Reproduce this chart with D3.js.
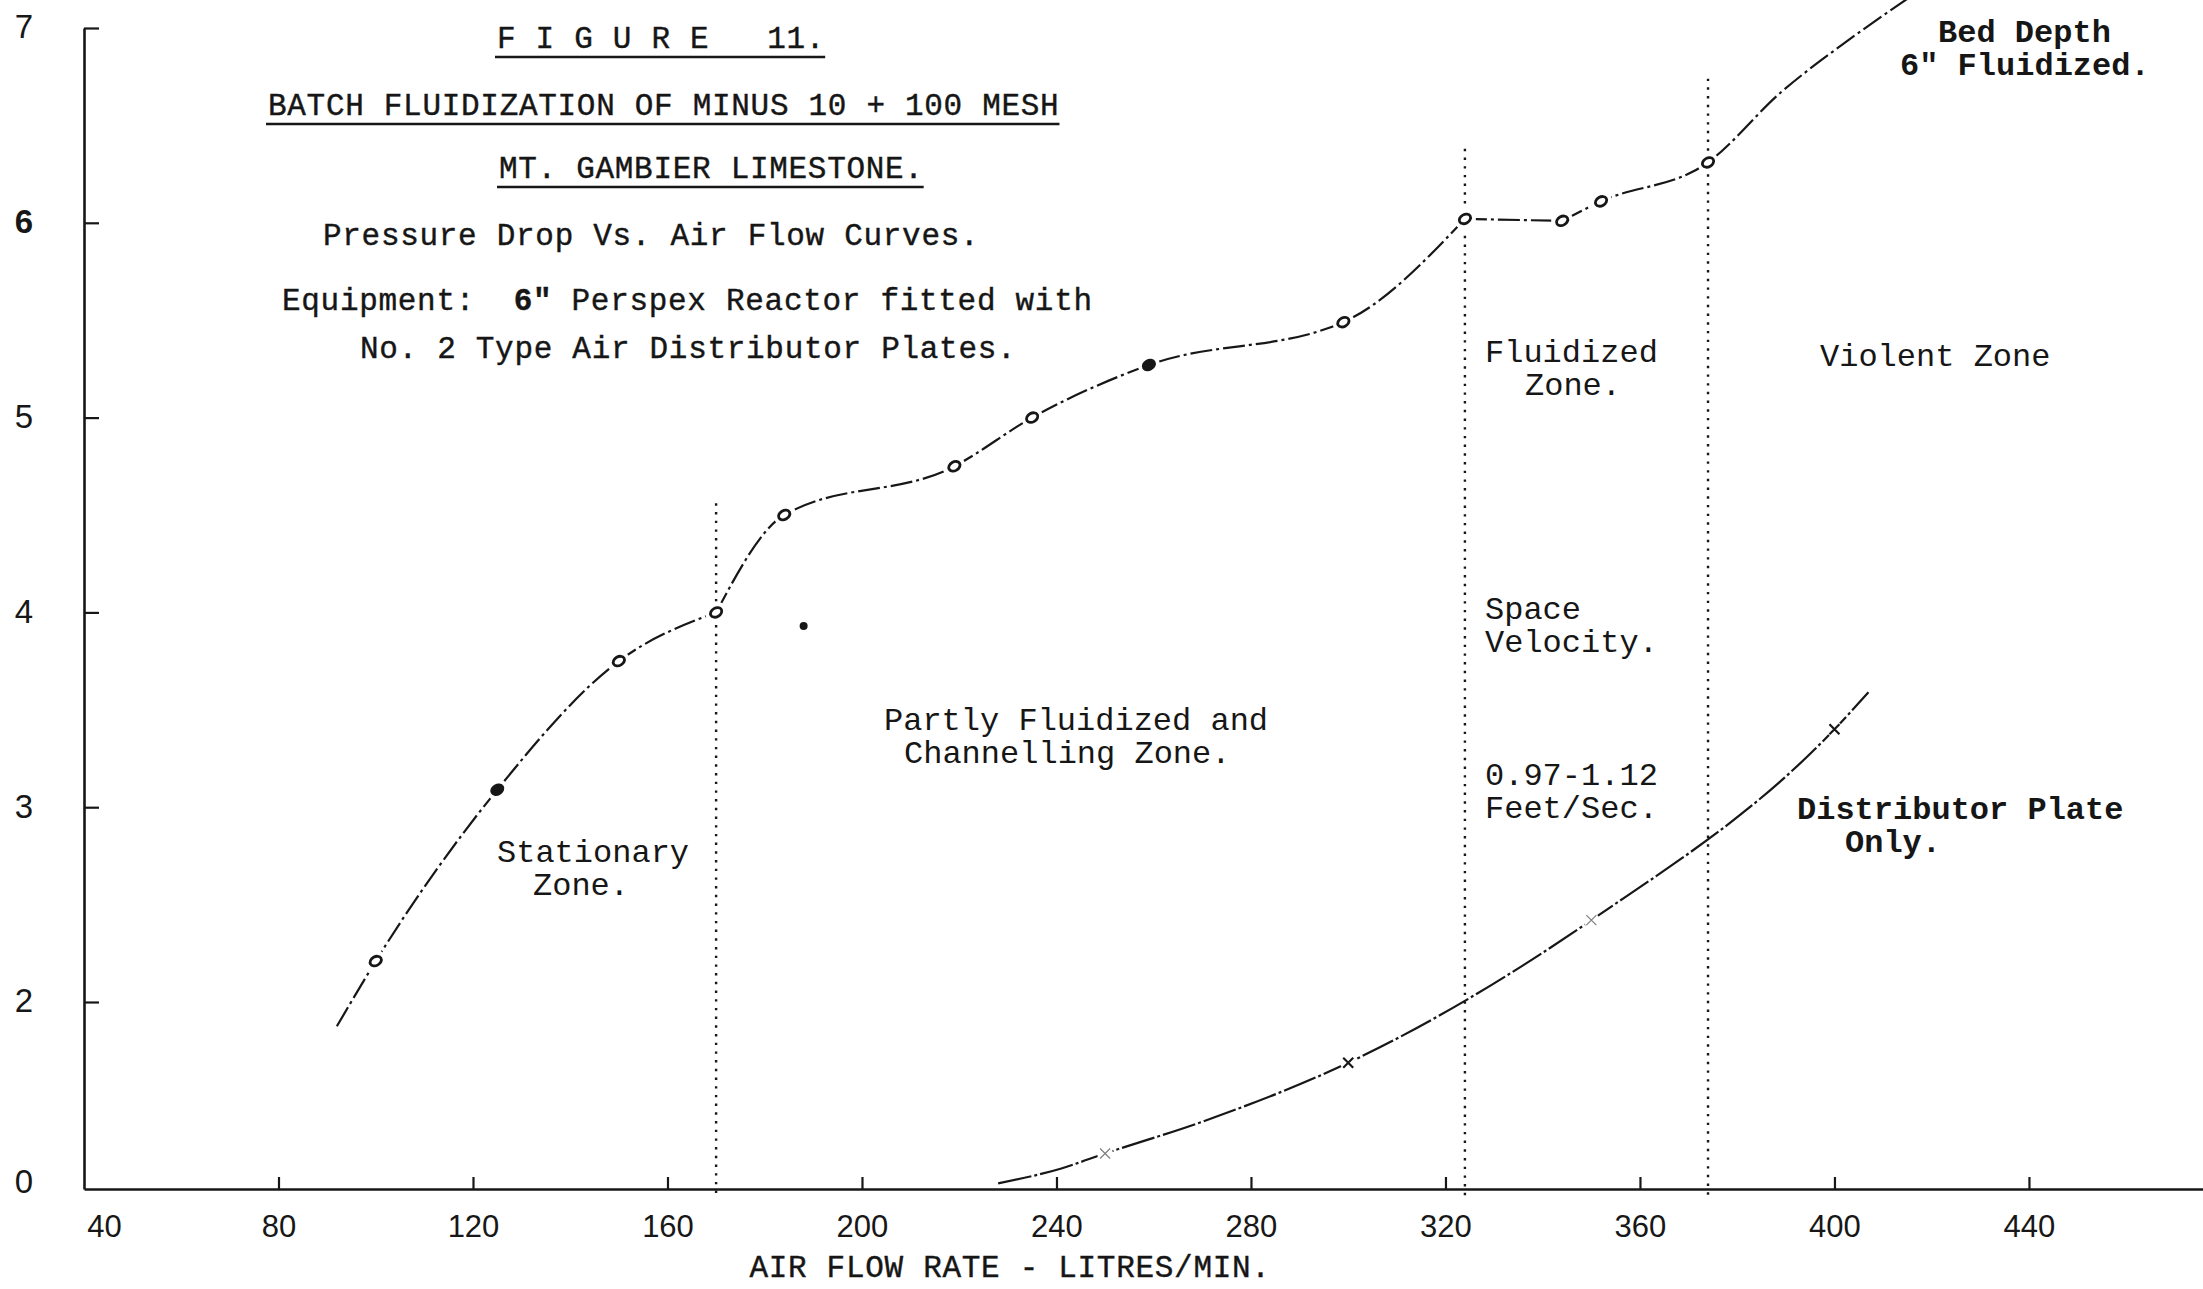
<!DOCTYPE html>
<html>
<head>
<meta charset="utf-8">
<title>Figure 11 - Batch Fluidization</title>
<script src="https://cdn.jsdelivr.net/npm/d3@7"></script>
<style>
  html, body { margin: 0; padding: 0; background: #fff; }
  svg { display: block; background: #fff; }
  .mono { font-family: "Liberation Mono", "DejaVu Sans Mono", monospace; fill: #161616; }
</style>
</head>
<body>
<svg id="chart" width="2203" height="1289"></svg>
<script>
// ---- axis ticks ----
const xTickValues = [40, 80, 120, 160, 200, 240, 280, 320, 360, 400, 440];
const xTickLabels = ["40", "80", "120", "160", "200", "240", "280", "320", "360", "400", "440"];
const yTickValues = [0, 2, 3, 4, 5, 6, 7];
const yTickLabels = ["0", "2", "3", "4", "5", "6", "7"];

// ---- bed of limestone: air flow (litres/min) vs pressure drop ----
const bedFlow = [100, 125, 150, 170, 184, 219, 235, 259, 299, 324, 344, 352, 374];
const bedDrop = [2.21, 3.09, 3.75, 4.00, 4.50, 4.75, 5.00, 5.27, 5.49, 6.02, 6.01, 6.11, 6.31];
const bedSolidFlow = [125, 259];
// readings where the drawn curve turns sharply instead of bending smoothly
const bedKinkFlow = [170, 324, 344];
// where the pencilled curve starts and how it runs on past the last reading
const bedLeadFlow = [92];
const bedLeadDrop = [1.74];
const bedTailFlow = [389, 403, 415];
const bedTailDrop = [6.67, 6.94, 7.15];

// single reading left off the curve
const strayFlow = [188];
const strayDrop = [3.93];

// ---- distributor plate only ----
const plateFlow = [228, 241, 250, 270, 300, 350, 400, 407];
const plateDrop = [0.06, 0.22, 0.38, 0.72, 1.35, 2.42, 3.40, 3.59];
const plateMarkedFlow = [250, 300, 350, 400];

// ---- zone boundaries (air flow) and how high each dotted line is drawn ----
const zoneFlow = [170, 324, 374];
const zoneTop = [4.56, 6.38, 6.74];

const svg = d3.select("#chart");

const x = d3.scaleLinear().domain([40, 476]).range([84, 2204]);
const y = d3.scaleLinear().domain([0, 2, 7]).range([1189, 1002, 28]);

const ink = "#171717";

// ---- zone boundary lines ----
svg.append("g").selectAll("line")
  .data(zoneFlow.map((f, i) => [f, zoneTop[i]]))
  .join("line")
  .attr("x1", d => x(d[0])).attr("x2", d => x(d[0]))
  .attr("y1", d => y(d[1])).attr("y2", y(0) + 8)
  .attr("stroke", ink).attr("stroke-width", 2.4)
  .attr("stroke-dasharray", "2.4 6.3");

// ---- axes ----
const xAxis = svg.append("g")
  .attr("transform", `translate(0,${y(0)})`)
  .call(d3.axisBottom(x).tickValues(xTickValues)
    .tickFormat((d, i) => xTickLabels[i])
    .tickSizeInner(-12).tickSizeOuter(0).tickPadding(26));
xAxis.select(".domain").attr("stroke", ink).attr("stroke-width", 2.6);
xAxis.selectAll(".tick line").attr("stroke", ink).attr("stroke-width", 2.2)
  .filter(d => d === 40).remove();
xAxis.selectAll(".tick text")
  .attr("font-family", "'Liberation Sans', Arial, sans-serif")
  .attr("font-size", 31).attr("fill", ink)
  .attr("dx", d => d === 40 ? 20 : 0);

const yAxis = svg.append("g")
  .attr("transform", `translate(${x(40)},0)`)
  .call(d3.axisLeft(y).tickValues(yTickValues)
    .tickFormat((d, i) => yTickLabels[i])
    .tickSizeInner(-15).tickSizeOuter(0));
yAxis.select(".domain").attr("stroke", ink).attr("stroke-width", 2.6);
yAxis.selectAll(".tick line").attr("stroke", ink).attr("stroke-width", 2.2)
  .filter(d => d === 0).remove();
yAxis.selectAll(".tick text")
  .attr("font-family", "'Liberation Sans', Arial, sans-serif")
  .attr("font-size", 33).attr("fill", ink)
  .attr("text-anchor", "middle").attr("x", -60)
  .attr("dy", d => d === 0 ? "0.1em" : "0.3em")
  .attr("font-weight", d => d === 6 ? "bold" : "normal");

// ---- curves ----
const line = d3.line()
  .x(d => x(d[0])).y(d => y(d[1]))
  .curve(d3.curveMonotoneX);

const bedLine = bedLeadFlow.map((f, i) => [f, bedLeadDrop[i]])
  .concat(bedFlow.map((f, i) => [f, bedDrop[i]]))
  .concat(bedTailFlow.map((f, i) => [f, bedTailDrop[i]]));

// split the bed curve at its sharp turns so each stretch bends on its own
const bedSegments = [];
let seg = [];
bedLine.forEach(p => {
  seg.push(p);
  if (bedKinkFlow.includes(p[0])) { bedSegments.push(seg); seg = [p]; }
});
bedSegments.push(seg);

svg.append("g").selectAll("path").data(bedSegments).join("path")
  .attr("d", d => line(d))
  .attr("fill", "none").attr("stroke", ink).attr("stroke-width", 2.2)
  .attr("stroke-dasharray", "22 4 3 4");

svg.append("path")
  .attr("d", line(plateFlow.map((f, i) => [f, plateDrop[i]])))
  .attr("fill", "none").attr("stroke", ink).attr("stroke-width", 2.2)
  .attr("stroke-dasharray", "34 3 3 3");

// ---- markers: typed "o" for the bed readings ----
const bedPts = bedFlow.map((f, i) => [f, bedDrop[i]]);
const mk = svg.append("g");
mk.selectAll("circle.halo").data(bedPts).join("circle")
  .attr("class", "halo")
  .attr("cx", d => x(d[0])).attr("cy", d => y(d[1])).attr("r", 11).attr("fill", "#fff");
mk.selectAll("ellipse").data(bedPts).join("ellipse")
  .attr("cx", d => x(d[0])).attr("cy", d => y(d[1]))
  .attr("rx", 6).attr("ry", 4.4)
  .attr("transform", d => `rotate(-30 ${x(d[0])} ${y(d[1])})`)
  .attr("fill", d => bedSolidFlow.includes(d[0]) ? ink : "#fff")
  .attr("stroke", ink).attr("stroke-width", 2.8);

svg.selectAll("circle.stray").data(strayFlow.map((f, i) => [f, strayDrop[i]])).join("circle")
  .attr("class", "stray")
  .attr("cx", d => x(d[0])).attr("cy", d => y(d[1])).attr("r", 4).attr("fill", ink);

// ---- markers: "x" for the plate readings ----
const platePts = plateFlow.map((f, i) => [f, plateDrop[i]]).filter(d => plateMarkedFlow.includes(d[0]));
const xm = svg.append("g");
xm.selectAll("circle").data(platePts).join("circle")
  .attr("cx", d => x(d[0])).attr("cy", d => y(d[1])).attr("r", 8).attr("fill", "#fff");
xm.selectAll("path").data(platePts).join("path")
  .attr("d", d => {
    const cx = x(d[0]), cy = y(d[1]), s = 5;
    return `M${cx - s},${cy - s}L${cx + s},${cy + s}M${cx - s},${cy + s}L${cx + s},${cy - s}`;
  })
  .attr("stroke", ink)
  .attr("stroke-width", d => (d[0] === 300 || d[0] === 400) ? 2.2 : 1.2)
  .attr("opacity", d => (d[0] === 300 || d[0] === 400) ? 1 : 0.55);

// ---- headings ----
function heading(txt, x0, base, underline) {
  const t = svg.append("text").attr("class", "mono")
    .attr("x", x0).attr("y", base)
    .attr("font-size", 31).attr("letter-spacing", "0.7px")
    .attr("stroke", ink).attr("stroke-width", 0.4)
    .attr("xml:space", "preserve")
    .text(txt);
  if (underline) {
    const b = t.node().getBBox();
    svg.append("line")
      .attr("x1", b.x - 2).attr("x2", b.x + b.width)
      .attr("y1", base + 9).attr("y2", base + 9)
      .attr("stroke", ink).attr("stroke-width", 2.6);
  }
  return t;
}
heading("F I G U R E   11.", 497, 48, true);
heading("BATCH FLUIDIZATION OF MINUS 10 + 100 MESH", 268, 115, true);
heading("MT. GAMBIER LIMESTONE.", 499, 178, true);
heading("Pressure Drop Vs. Air Flow Curves.", 323, 245, false);
const eq = heading("", 282, 310, false);
eq.append("tspan").text("Equipment:  ");
eq.append("tspan").attr("font-weight", "bold").text("6\"");
eq.append("tspan").text(" Perspex Reactor fitted with");
heading("No. 2 Type Air Distributor Plates.", 360, 358, false);

// ---- zone notes ----
function note(lines, xs, base, weight) {
  lines.forEach((txt, i) => {
    svg.append("text").attr("class", "mono")
      .attr("x", xs[i]).attr("y", base + i * 33)
      .attr("font-size", 32)
      .attr("font-weight", weight || "normal")
      .attr("xml:space", "preserve")
      .text(txt);
  });
}
note(["Bed Depth", "6\" Fluidized."], [1938, 1900], 42, "bold");
note(["Fluidized", "Zone."], [1485, 1525], 362);
note(["Violent Zone"], [1820], 366);
note(["Space", "Velocity."], [1485, 1485], 619);
note(["0.97-1.12", "Feet/Sec."], [1485, 1485], 785);
note(["Distributor Plate", "Only."], [1797, 1845], 819, "bold");
note(["Partly Fluidized and", "Channelling Zone."], [884, 904], 730);
note(["Stationary", "Zone."], [497, 533], 862);

// ---- axis title ----
svg.append("text").attr("class", "mono")
  .attr("x", 1010).attr("y", 1277)
  .attr("text-anchor", "middle")
  .attr("font-size", 31).attr("letter-spacing", "0.7px")
  .attr("stroke", ink).attr("stroke-width", 0.4)
  .text("AIR FLOW RATE - LITRES/MIN.");
</script>
</body>
</html>
